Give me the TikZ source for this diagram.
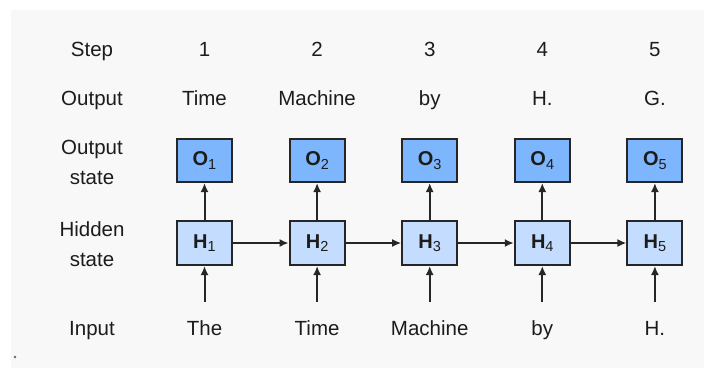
\documentclass[tikz,border=0pt]{standalone}
\usepackage{fontspec}
\setmainfont{Liberation Sans}
\usetikzlibrary{arrows.meta,positioning}
\definecolor{bg}{HTML}{F8F8F8}
\definecolor{tx}{HTML}{1C1C1C}
\definecolor{ln}{HTML}{262626}
\definecolor{os}{HTML}{7DB6FC}
\definecolor{hs}{HTML}{C4DCFE}
\newcommand{\Sub}[2]{\textbf{#1}\raisebox{-3.5pt}{\fontsize{14.5}{14.5}\selectfont #2}}

\tikzset{
  word/.style={anchor=base, inner sep=0pt, text=tx, font=\fontsize{20.5}{30}\selectfont},
  rowlabel/.style={word, align=center, anchor=north},
  cell/.style={draw=ln, line width=2pt, minimum width=55pt, inner sep=0pt,
    text=tx, font=\fontsize{20}{22}\selectfont},
  ostate/.style={cell, fill=os, minimum height=43pt},
  hstate/.style={cell, fill=hs, minimum height=44pt},
  link/.style={draw=ln, line width=2pt, -{Latex[length=9pt,width=8pt]}},
}

\begin{document}
\begin{tikzpicture}[x=1pt, y=-1pt, node distance=55.6pt]
  \useasboundingbox (0,0) rectangle (704,368);
  \fill[bg] (11,10) rectangle (704,368);
  \fill[ln!70] (15,357) circle (1.3);

  % row labels on the left
  \node[word] (steplbl) at (92,56) {Step};
  \node[word] (outlbl) at (92,105) {Output};
  \node[rowlabel] (ostlbl) at (92,139.5) {Output\\state};
  \node[rowlabel] (hstlbl) at (92,221.5) {Hidden\\state};
  \node[word] (inlbl) at (92,335) {Input};

  % hidden states, left to right
  \node[hstate] (h1) at (204.5,243) {\Sub{H}{1}};
  \node[hstate, right=of h1] (h2) {\Sub{H}{2}};
  \node[hstate, right=of h2] (h3) {\Sub{H}{3}};
  \node[hstate, right=of h3] (h4) {\Sub{H}{4}};
  \node[hstate, right=of h4] (h5) {\Sub{H}{5}};

  % output states on top of them
  \node[ostate, above=37pt of h1] (o1) {\Sub{O}{1}};
  \node[ostate, above=37pt of h2] (o2) {\Sub{O}{2}};
  \node[ostate, above=37pt of h3] (o3) {\Sub{O}{3}};
  \node[ostate, above=37pt of h4] (o4) {\Sub{O}{4}};
  \node[ostate, above=37pt of h5] (o5) {\Sub{O}{5}};

  % step numbers
  \node[word] (s1) at (h1 |- steplbl.base) {1};
  \node[word] (s2) at (h2 |- steplbl.base) {2};
  \node[word] (s3) at (h3 |- steplbl.base) {3};
  \node[word] (s4) at (h4 |- steplbl.base) {4};
  \node[word] (s5) at (h5 |- steplbl.base) {5};

  % output tokens
  \node[word] (y1) at (h1 |- outlbl.base) {Time};
  \node[word] (y2) at (h2 |- outlbl.base) {Machine};
  \node[word] (y3) at (h3 |- outlbl.base) {by};
  \node[word] (y4) at (h4 |- outlbl.base) {H.};
  \node[word] (y5) at (h5 |- outlbl.base) {G.};

  % input tokens
  \node[word] (x1) at (h1 |- inlbl.base) {The};
  \node[word] (x2) at (h2 |- inlbl.base) {Time};
  \node[word] (x3) at (h3 |- inlbl.base) {Machine};
  \node[word] (x4) at (h4 |- inlbl.base) {by};
  \node[word] (x5) at (h5 |- inlbl.base) {H.};

  % feed points of the input arrows
  \coordinate[below=36pt of h1] (i1);
  \coordinate[below=36pt of h2] (i2);
  \coordinate[below=36pt of h3] (i3);
  \coordinate[below=36pt of h4] (i4);
  \coordinate[below=36pt of h5] (i5);

  \draw[link] (i1) -- (h1);
  \draw[link] (i2) -- (h2);
  \draw[link] (i3) -- (h3);
  \draw[link] (i4) -- (h4);
  \draw[link] (i5) -- (h5);

  \draw[link] (h1) -- (o1);
  \draw[link] (h2) -- (o2);
  \draw[link] (h3) -- (o3);
  \draw[link] (h4) -- (o4);
  \draw[link] (h5) -- (o5);

  \draw[link] (h1) -- (h2);
  \draw[link] (h2) -- (h3);
  \draw[link] (h3) -- (h4);
  \draw[link] (h4) -- (h5);
\end{tikzpicture}
\end{document}
